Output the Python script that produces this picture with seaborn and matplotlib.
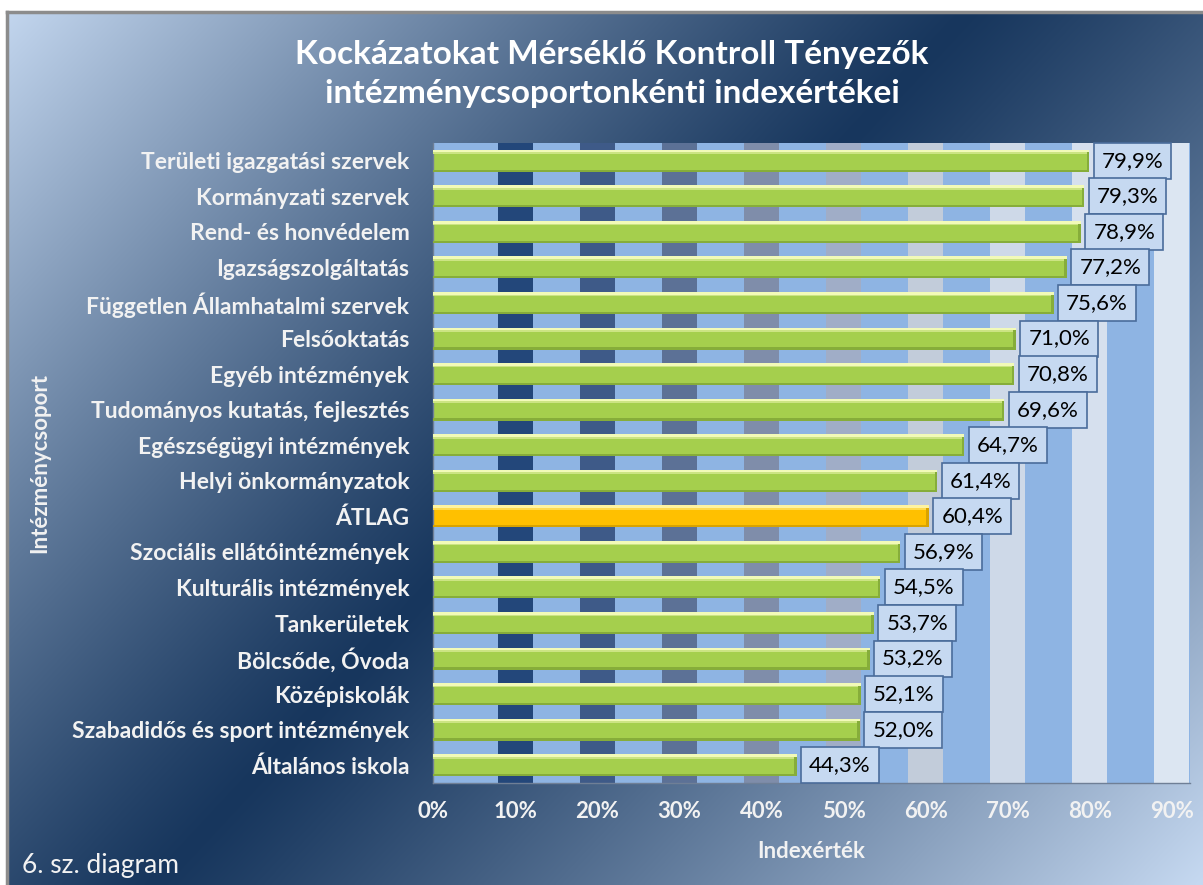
import numpy as np
import pandas as pd
import matplotlib.pyplot as plt
import matplotlib.colors as mcolors
from matplotlib.patches import Rectangle
import seaborn as sns

categories = ['Területi igazgatási szervek', 'Kormányzati szervek', 'Rend- és honvédelem',
              'Igazságszolgáltatás', 'Független Államhatalmi szervek', 'Felsőoktatás',
              'Egyéb intézmények', 'Tudományos kutatás, fejlesztés', 'Egészségügyi intézmények',
              'Helyi önkormányzatok', 'ÁTLAG', 'Szociális ellátóintézmények',
              'Kulturális intézmények', 'Tankerületek', 'Bölcsőde, Óvoda', 'Középiskolák',
              'Szabadidős és sport intézmények', 'Általános iskola']
values = [79.9, 79.3, 78.9, 77.2, 75.6, 71.0, 70.8, 69.6, 64.7,
          61.4, 60.4, 56.9, 54.5, 53.7, 53.2, 52.1, 52.0, 44.3]
x_ticks = [0, 10, 20, 30, 40, 50, 60, 70, 80, 90]

title = 'Kockázatokat Mérséklő Kontroll Tényezők\nintézménycsoportonkénti indexértékei'

sns.set_theme(style='white')
plt.rcParams['font.family'] = ['Lato', 'DejaVu Sans']

df = pd.DataFrame({'cat': categories, 'value': values})
df['kind'] = np.where(df['cat'] == 'ÁTLAG', 'avg', 'group')

W, H = 1203, 885
fig = plt.figure(figsize=(W / 100, H / 100), dpi=100)
fig.patch.set_facecolor('white')

# background gradient (light - dark - light along the diagonal)
bg = fig.add_axes([7 / W, 0, 1 - 7 / W, 1 - 12 / H], zorder=-10)
gx, gy = np.meshgrid(np.linspace(7, W, 400), np.linspace(12, H, 300))
p = 0.73 * gx + 0.68 * gy
pd_, pl = 715.0, 1480.0
s = np.where(p < pd_, 1 - p / pd_, (p - pd_) / (pl - pd_))
s = np.clip(s, 0, 1) ** 1.15
light = np.array(mcolors.to_rgb('#C6D9F1'))
dark = np.array(mcolors.to_rgb('#17365D'))
img = dark[None, None, :] + s[..., None] * (light - dark)[None, None, :]
bg.imshow(img, aspect='auto', extent=[0, 1, 0, 1], origin='upper', interpolation='bilinear')
bg.set_xticks([])
bg.set_yticks([])
for side in ['right', 'bottom']:
    bg.spines[side].set_visible(False)
for side in ['left', 'top']:
    bg.spines[side].set_color('#8C8C8C')
    bg.spines[side].set_linewidth(2.5)

ax = fig.add_axes([433 / W, 1 - 783 / H, (1190 - 433) / W, (783 - 143) / H])
ax.set_facecolor('#8EB4E3')

# vertical stripes on the gridlines, dark to light
stripe_colors = ['#23477A', '#3E5A88', '#5C7196', '#7F8DAA', '#A0ADC7',
                 '#C2CCDA', '#CED9E8', '#D6E0EE', '#DCE6F2']
for t, c in zip(x_ticks[1:], stripe_colors):
    ax.axvspan(t - 2.13, t + 2.13, color=c, zorder=0, lw=0)

n_before = len(ax.patches)
sns.barplot(data=df, y='cat', x='value', hue='kind', orient='h', dodge=False,
            palette={'group': '#A5CF4D', 'avg': '#FFC000'}, saturation=1, width=0.62,
            legend=False, ax=ax, zorder=2, linewidth=0)
bars = [b for b in ax.patches[n_before:] if b.get_width() > 0]

# bevel effect on bars
for patch in bars:
    is_avg = mcolors.to_hex(patch.get_facecolor()).upper() == '#FFC000'
    x0, y0, w, h = patch.get_x(), patch.get_y(), patch.get_width(), patch.get_height()
    base = np.array(patch.get_facecolor()[:3])
    hi = np.array(mcolors.to_rgb('#FFF3A0' if is_avg else '#F2FAB8'))
    lo = '#D9A300' if is_avg else '#86AD3A'
    ax.add_patch(Rectangle((x0, y0), w, h * 0.12, color=hi, lw=0, zorder=3))
    ax.add_patch(Rectangle((x0, y0 + h * 0.12), w, h * 0.08, color=0.5 * hi + 0.5 * base, lw=0, zorder=3))
    ax.add_patch(Rectangle((x0, y0 + h * 0.9), w, h * 0.1, color=lo, lw=0, zorder=3))
    ax.add_patch(Rectangle((x0 + w - 0.3, y0 + h * 0.12), 0.3, h * 0.88, color=lo, lw=0, zorder=3))

for i, v in enumerate(values):
    ax.annotate(f'{v:.1f}'.replace('.', ',') + '%', (v, i), xytext=(9, 0),
                textcoords='offset points', ha='left', va='center',
                fontsize=16, color='black', zorder=5,
                bbox=dict(boxstyle='square,pad=0.36', fc='#C6D9F1', ec='#4A6C9B', lw=1.2))

ax.set_xlim(0, 92.2)
ax.set_ylim(len(categories) - 0.5, -0.5)
ax.set_xticks(x_ticks)
ax.set_xticklabels([f'{t}%' for t in x_ticks])
ax.tick_params(axis='x', length=0, pad=13, labelsize=16, labelcolor='#F2F2F2')
ax.tick_params(axis='y', length=0, pad=17, labelsize=16.5, labelcolor='#F2F2F2')
for lab in ax.get_xticklabels() + ax.get_yticklabels():
    lab.set_fontweight('bold')
ax.set_xlabel('')
ax.set_ylabel('')
for side in ['top', 'right']:
    ax.spines[side].set_visible(False)
for side in ['left', 'bottom']:
    ax.spines[side].set_color('#6F7F96')
    ax.spines[side].set_linewidth(1)

fig.text(612 / W, 1 - 74 / H, title, ha='center', va='center', fontsize=24,
         fontweight='bold', color='white', linespacing=1.45)
fig.text(40 / W, 1 - 463 / H, 'Intézménycsoport', rotation=90, ha='center', va='center',
         fontsize=16, fontweight='bold', color='#F2F2F2')
fig.text(811 / W, 1 - 852 / H, 'Indexérték', ha='center', va='center',
         fontsize=16, fontweight='bold', color='#F2F2F2')
fig.text(22 / W, 1 - 865 / H, '6. sz. diagram', ha='left', va='center',
         fontsize=19, color='#F2F2F2')

fig.savefig('out.png', dpi=100)
